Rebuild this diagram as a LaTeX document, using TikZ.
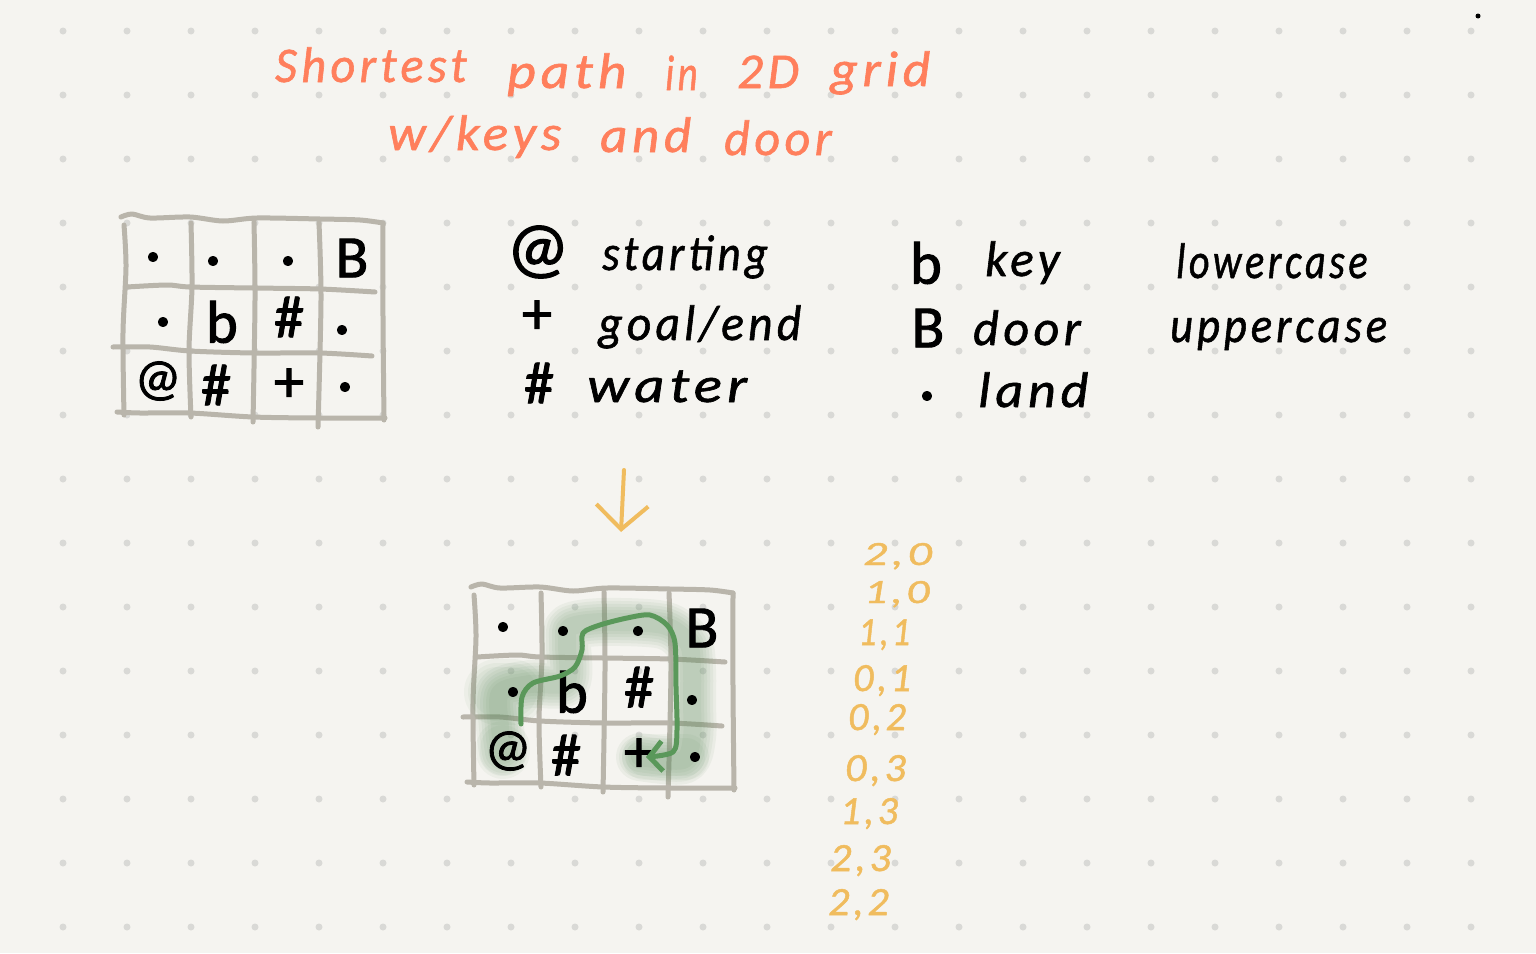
\documentclass[tikz,border=0pt]{standalone}
\usepackage{fontspec}
\usetikzlibrary{arrows.meta}
\newfontfamily\handfont[LetterSpace=9,FakeBold=1.2]{Carlito}
\newfontfamily\symbfont[FakeBold=1.6]{Carlito}
\newfontfamily\dotfont[FakeBold=15]{Carlito}
\definecolor{paper}{HTML}{F5F4F0}
\definecolor{paperdot}{HTML}{D9D9D6}
\definecolor{gridline}{HTML}{B9B5AB}
\definecolor{titlered}{HTML}{FF7F5C}
\definecolor{amber}{HTML}{F0BC5E}
\definecolor{routegreen}{HTML}{5A985A}
\definecolor{washgreen}{HTML}{5E8F5E}
\tikzset{
  word/.style={font=\handfont\itshape\fontsize{50}{50}\selectfont,inner sep=0pt,anchor=base west},
  titleword/.style={word,text=titlered},
  pair/.style={word,text=amber,font=\handfont\itshape\fontsize{40}{40}\selectfont},
  smallpair/.style={pair,font=\handfont\itshape\fontsize{34}{34}\selectfont},
  symb/.style={font=\symbfont\fontsize{60}{60}\selectfont,inner sep=0pt},
  atsign/.style={font=\symbfont\fontsize{52}{52}\selectfont,inner sep=0pt},
  landdot/.style={font=\dotfont\fontsize{36}{36}\selectfont,inner sep=0pt},
  sketchline/.style={gridline,line width=5pt,line cap=round,line join=round},
}
\newcommand{\hw}[2]{\scalebox{#1}[1]{#2}}
% the 3x4 board, #1 prefixes the node names
\newcommand{\boardlines}{
  \draw[sketchline] plot[smooth] coordinates {(121,217) (132,214) (150,218) (190,217) (223,221) (257,218) (320,219) (360,220) (383,223)};
  \draw[sketchline] plot[smooth] coordinates {(117,412) (140,413) (190,413) (253,417) (318,418) (385,418)};
  \draw[sketchline] plot[smooth] coordinates {(124,225) (126,267) (123,333) (124,415)};
  \draw[sketchline] plot[smooth] coordinates {(191,223) (192,287) (189,350) (191,417)};
  \draw[sketchline] plot[smooth] coordinates {(254,222) (255,300) (253,422)};
  \draw[sketchline] plot[smooth] coordinates {(319,223) (321,300) (318,427)};
  \draw[sketchline] plot[smooth] coordinates {(383,223) (383,317) (384,420)};
  \draw[sketchline] plot[smooth] coordinates {(127,287) (167,285) (190,287) (253,288) (320,289) (375,292)};
  \draw[sketchline] plot[smooth] coordinates {(113,347) (150,347) (190,351) (253,353) (320,353) (372,356)};
}
\newcommand{\boardsymbols}[1]{
  \node[landdot] (#1a) at (153,257) {.};
  \node[landdot] (#1b) at (213,261) {.};
  \node[landdot] (#1c) at (288,261) {.};
  \node[symb] (#1door) at (352,258) {B};
  \node[landdot] (#1e) at (163,322) {.};
  \node[symb] (#1key) at (222,322) {b};
  \node[symb] (#1waterone) at (289,317) {\#};
  \node[landdot] (#1h) at (342,330) {.};
  \node[atsign] (#1start) at (158,381) {@};
  \node[symb] (#1watertwo) at (216,385) {\#};
  \node[symb] (#1goal) at (289,385) {+};
  \node[landdot] (#1l) at (345,387) {.};
}

\begin{document}
\begin{tikzpicture}[x=1pt,y=-1pt]
  \useasboundingbox (0,0) rectangle (1536,953);
  \fill[paper] (0,0) rectangle (1536,953);
  \foreach \col in {0,...,22}
    \foreach \row in {0,...,14}
      \fill[paperdot] ({63+64*\col},{31+64*\row}) circle [radius=3.5pt];
  \fill[black] (1478,16) circle [radius=2.5pt];

  % title
  \node[titleword] (shortest) at (275,82) {\hw{.965}{Shortest}};
  \node[titleword] (path) at (507,88) {\hw{1.11}{path}};
  \node[titleword] (in) at (665,90) {\hw{.78}{in}};
  \node[titleword] (twod) at (737,88) {\hw{1.02}{2D}};
  \node[titleword] (grid) at (830,86) {\hw{1.07}{grid}};
  \node[titleword] (keys) at (388,150) {\hw{1.055}{w/keys}};
  \node[titleword] (and) at (600,152) {\hw{1.057}{and}};
  \node[titleword] (doorword) at (724,155) {door};

  % first board
  \boardlines
  \boardsymbols{top}

  % legend
  \node[atsign,font=\symbfont\fontsize{70}{70}\selectfont] (lgat) at (538,252) {@};
  \node[word] (lgstart) at (602,270) {\hw{.90}{starting}};
  \node[symb] (lgplus) at (537,317) {+};
  \node[word] (lggoal) at (598,340) {\hw{.95}{goal/end}};
  \node[symb] (lghash) at (539,383) {\#};
  \node[word] (lgwater) at (587,402) {\hw{1.17}{water}};
  \node[symb] (lgb) at (926,263) {b};
  \node[word] (lgkey) at (985,276) {\hw{.98}{key}};
  \node[symb] (lgB) at (928,328) {B};
  \node[word] (lgdoor) at (973,345) {door};
  \node[landdot] (lgdot) at (927,396) {.};
  \node[word] (lgland) at (978,407) {\hw{1.08}{land}};
  \node[word] (lglower) at (1176,278) {\hw{.80}{lowercase}};
  \node[word] (lgupper) at (1170,342) {\hw{.89}{uppercase}};

  % arrow down to the solved board
  \coordinate (arrowtop) at (624,470);
  \coordinate (arrowend) at (621,532);
  \draw[-{Straight Barb[length=24pt,width=52pt]},amber,line width=4pt,line cap=round] (arrowtop) -- (arrowend);

  % solved board
  \begin{scope}[shift={(350,370)}]
    \boardlines
  \end{scope}
  \foreach \wide in {48,42,36,30,24,18}
    \draw[washgreen,opacity=0.07,line width=\wide pt,line cap=round,line join=round]
      plot[smooth] coordinates {(503,752) (500,727) (500,693) (530,684) (566,682) (567,643) (570,627) (603,622) (663,625) (688,643) (692,670) (692,703) (692,737) (683,760) (640,757)};
  \foreach \wide in {66,58,50}
    \draw[washgreen,opacity=0.06,line width=\wide pt,line cap=round] (497,692) -- (512,692);
  \foreach \wide in {54,46}
    \draw[washgreen,opacity=0.06,line width=\wide pt,line cap=round] (503,748) -- (503,752);
  \foreach \wide in {46,38}
    \draw[washgreen,opacity=0.06,line width=\wide pt,line cap=round] (645,757) -- (686,757);
  \begin{scope}[shift={(350,370)}]
    \boardsymbols{low}
  \end{scope}
  \coordinate (routestart) at (521,724);
  \coordinate (routeend) at (646,757);
  \draw[-{Straight Barb[length=13pt,width=30pt]},routegreen,line width=5pt,line cap=round,line join=round]
    plot[smooth] coordinates {(routestart) (522,697) (533,683) (560,676) (575,667) (582,650) (583,633) (600,625) (627,618) (650,615) (667,625) (675,643) (676,687) (677,730) (673,752) (routeend)};

  % visited cells
  \node[smallpair] (cellone) at (863,565) {\hw{1.4}{2,0}};
  \node[smallpair] (celltwo) at (864,603) {\hw{1.33}{1,0}};
  \node[pair] (cellthree) at (858,645) {\hw{.9}{1,1}};
  \node[pair] (cellfour) at (853,691) {0,1};
  \node[pair] (cellfive) at (848,730) {0,2};
  \node[pair] (cellsix) at (845,781) {\hw{1.05}{0,3}};
  \node[pair] (cellseven) at (840,824) {1,3};
  \node[pair] (celleight) at (830,871) {\hw{1.05}{2,3}};
  \node[pair] (cellnine) at (828,915) {\hw{1.05}{2,2}};
\end{tikzpicture}
\end{document}
